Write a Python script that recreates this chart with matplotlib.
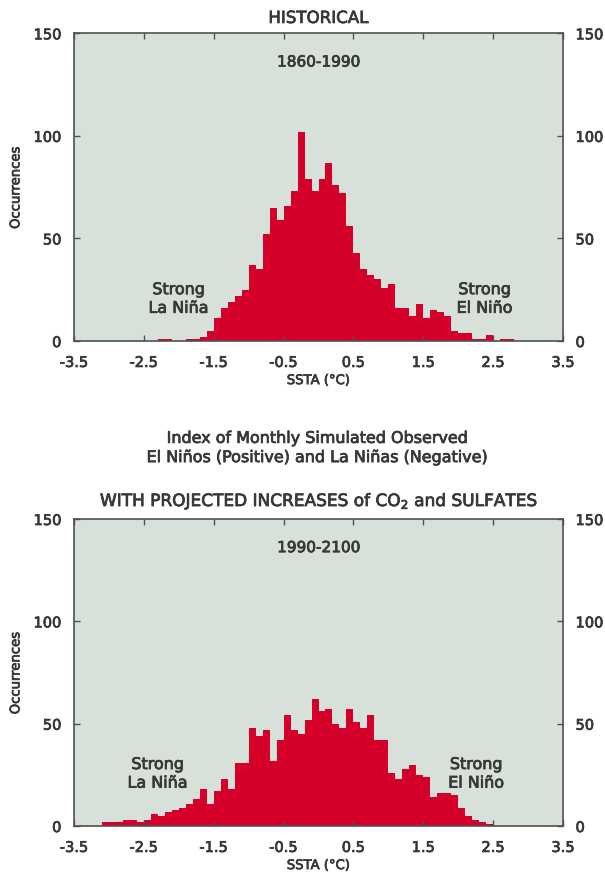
import numpy as np
import matplotlib
matplotlib.use('Agg')
import matplotlib.pyplot as plt
import matplotlib.patheffects as pe
from matplotlib.text import Text

plt.rcParams['font.family'] = ['DejaVu Sans']

# histogram counts, bins 0.1 degC wide, first bin left edge given
hist_start = -2.3
hist_counts = [1, 1, 0, 0, 1, 1, 2, 5, 11, 16, 19, 22, 25, 37, 35, 52, 65, 59,
               66, 73, 102, 79, 73, 79, 87, 76, 72, 56, 43, 35, 32, 30, 26, 28,
               16, 16, 12, 18, 11, 15, 14, 12, 5, 4, 4, 1, 1, 3, 0, 1, 1]

proj_start = -3.1
proj_counts = [2, 2, 2, 3, 3, 2, 3, 6, 5, 7, 8, 9, 11, 13, 18, 11, 17, 23, 18,
               31, 31, 48, 44, 47, 32, 42, 54, 47, 45, 52, 62, 56, 57, 50, 48,
               57, 51, 48, 54, 42, 42, 26, 23, 28, 30, 25, 24, 14, 16, 16, 15,
               9, 5, 3, 2, 1]

bin_width = 0.1
x_ticks = [-3.5, -2.5, -1.5, -0.5, 0.5, 1.5, 2.5, 3.5]
y_ticks = [0, 50, 100, 150]

bar_color = '#d4002a'
bg_color = '#d8e0da'
frame_color = '#505050'
text_color = '#383838'

fig = plt.figure(figsize=(6.05, 8.81), dpi=100)
ax1 = fig.add_axes([0.1223, 0.6129, 0.8083, 0.3493])
ax2 = fig.add_axes([0.1223, 0.0624, 0.8083, 0.3485])


def draw_panel(ax, start, counts, period, nina_xy, nino_xy):
    edges = np.round(start + bin_width * np.arange(len(counts)), 2)
    ax.bar(edges, counts, width=bin_width, align='edge', color=bar_color,
           linewidth=0)
    ax.set_facecolor(bg_color)
    ax.set_xlim(-3.5, 3.5)
    ax.set_ylim(0, 150)
    ax.set_xticks(x_ticks)
    ax.set_xticklabels([str(t) for t in x_ticks])
    ax.set_yticks(y_ticks)
    ax.tick_params(direction='in', top=True, right=True, labelright=True,
                   length=4, width=1, color=frame_color, labelsize=10.5,
                   labelcolor=text_color)
    ax.tick_params(axis='x', pad=10)
    ax.tick_params(axis='y', pad=9)
    for s in ax.spines.values():
        s.set_color(frame_color)
        s.set_linewidth(1.2)
    ax.set_xlabel('SSTA (°C)', fontsize=9.5, color=text_color, labelpad=3)
    ax.set_ylabel('Occurrences', fontsize=9.5, color=text_color, labelpad=8)
    ax.text(0, 136, period, ha='center', va='center', fontsize=11,
            color=text_color)
    ax.text(nina_xy[0], nina_xy[1], 'Strong\nLa Niña', ha='center',
            va='center', fontsize=11.5, color=text_color, linespacing=1.3)
    ax.text(nino_xy[0], nino_xy[1], 'Strong\nEl Niño', ha='center',
            va='center', fontsize=11.5, color=text_color, linespacing=1.3)


draw_panel(ax1, hist_start, hist_counts, '1860-1990', (-2.0, 20.5), (2.38, 20.5))
draw_panel(ax2, proj_start, proj_counts, '1990-2100', (-2.3, 25.5), (2.26, 25.5))

fig.text(0.526, 0.9796, 'HISTORICAL', ha='center', va='center', fontsize=12,
         color=text_color)
fig.text(0.526, 0.4915, 'Index of Monthly Simulated Observed\n'
         'El Niños (Positive) and La Niñas (Negative)', ha='center',
         va='center', fontsize=11.5, color=text_color, linespacing=1.35)
fig.text(0.526, 0.4313, 'WITH PROJECTED INCREASES of CO$_2$ and SULFATES',
         ha='center', va='center', fontsize=12.2, color=text_color)

# the original lettering is a heavier weight, thicken it a little
for t in fig.findobj(Text):
    t.set_path_effects([pe.withStroke(linewidth=0.55, foreground=text_color)])

fig.savefig('out.png', dpi=100, facecolor='white')
